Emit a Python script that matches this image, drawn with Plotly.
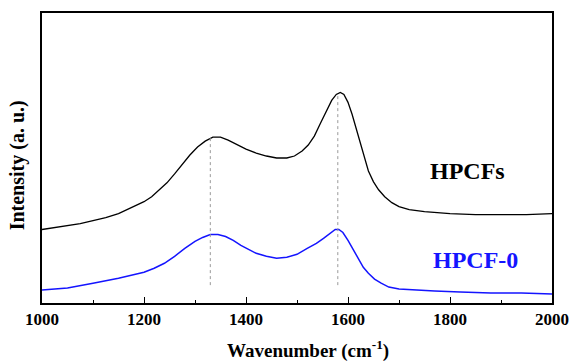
import plotly.graph_objects as go

# HPCFs (black) spectrum (arbitrary intensity units)
wn_hpcfs = [1000, 1025, 1050, 1075, 1100, 1125, 1150, 1175, 1200, 1215, 1230, 1245, 1260, 1275,
            1290, 1305, 1320, 1335, 1350, 1365, 1380, 1400, 1420, 1440, 1460, 1480, 1495, 1510,
            1522, 1534, 1546, 1558, 1568, 1577, 1585, 1592, 1600, 1608, 1616, 1624, 1632, 1640,
            1650, 1660, 1672, 1686, 1700, 1720, 1750, 1800, 1850, 1900, 1950, 2000]
int_hpcfs = [73, 75, 77, 79, 82, 85, 89, 95, 101, 106, 113, 120, 129, 139,
             148, 156, 162, 166, 166, 163, 159, 154, 150, 147, 145, 145, 147, 152,
             158, 167, 180, 193, 203, 209, 211, 209, 201, 189, 175, 160, 145, 132,
             121, 113, 106, 100, 96, 93, 91, 89, 88, 88, 88, 89]

# HPCF-0 (blue) spectrum
wn_hpcf0 = [1000, 1050, 1100, 1150, 1200, 1220, 1240, 1260, 1280, 1300, 1315, 1330, 1345, 1360,
            1375, 1390, 1405, 1420, 1440, 1460, 1480, 1500, 1520, 1538, 1552, 1565, 1575, 1582,
            1590, 1600, 1610, 1620, 1630, 1640, 1652, 1665, 1680, 1700, 1730, 1770, 1820, 1880,
            1940, 2000]
int_hpcf0 = [12, 14, 19, 24, 30, 34, 39, 46, 54, 61, 65, 68, 68, 66,
             62, 57, 53, 49, 46, 44, 45, 48, 54, 59, 64, 69, 73, 73,
             70, 62, 53, 43, 35, 29, 23, 19, 15, 13, 12, 11, 10, 9,
             9, 8]

peak_positions = [1330, 1580]
x_ticks = [1000, 1200, 1400, 1600, 1800, 2000]

font_serif = "Liberation Serif"

fig = go.Figure()
fig.add_trace(go.Scatter(x=wn_hpcfs, y=int_hpcfs, mode="lines",
                         line=dict(color="black", width=1.3), showlegend=False))
fig.add_trace(go.Scatter(x=wn_hpcf0, y=int_hpcf0, mode="lines",
                         line=dict(color="#1414ff", width=1.5), showlegend=False))

# dotted guide lines at peak positions, from baseline up to the top curve
for p in peak_positions:
    idx = min(range(len(wn_hpcfs)), key=lambda i: abs(wn_hpcfs[i] - p))
    fig.add_shape(type="line", x0=p, x1=p, y0=17, y1=int_hpcfs[idx],
                  line=dict(color="#999999", width=1, dash="dot"))

fig.add_annotation(x=1835, y=132, text="<b>HPCFs</b>", showarrow=False,
                   font=dict(family=font_serif, size=24, color="black"))
fig.add_annotation(x=1850, y=42, text="<b>HPCF-0</b>", showarrow=False,
                   font=dict(family=font_serif, size=24, color="#1414ff"))

# axis titles as annotations (positioned like the reference)
fig.add_annotation(xref="paper", yref="paper", x=0.521, y=-0.162, xanchor="center", yanchor="middle",
                   text="<b>Wavenumber (cm<sup>-1</sup>)</b>", showarrow=False,
                   font=dict(family=font_serif, size=19, color="black"))
fig.add_annotation(xref="paper", yref="paper", x=-0.048, y=0.473, xanchor="center", yanchor="middle",
                   text="<b>Intensity (a. u.)</b>", textangle=-90, showarrow=False,
                   font=dict(family=font_serif, size=20, color="black"))

fig.update_xaxes(range=[1000, 2000], tickvals=x_ticks,
                 ticks="inside", ticklen=6, tickwidth=1.2, tickcolor="black",
                 minor=dict(dtick=100, ticks="inside", ticklen=3, tickcolor="black", tickwidth=1),
                 showline=True, linecolor="black", linewidth=1.5, mirror=True,
                 showgrid=False, zeroline=False,
                 tickfont=dict(family=font_serif, size=17, color="black", weight="bold"))
fig.update_yaxes(range=[-1, 291], showticklabels=False, ticks="",
                 showline=True, linecolor="black", linewidth=1.5, mirror=True,
                 showgrid=False, zeroline=False)

fig.update_layout(width=580, height=361, margin=dict(l=42, r=18, t=11, b=58),
                  plot_bgcolor="white", paper_bgcolor="white")

fig.write_html("out.html")
